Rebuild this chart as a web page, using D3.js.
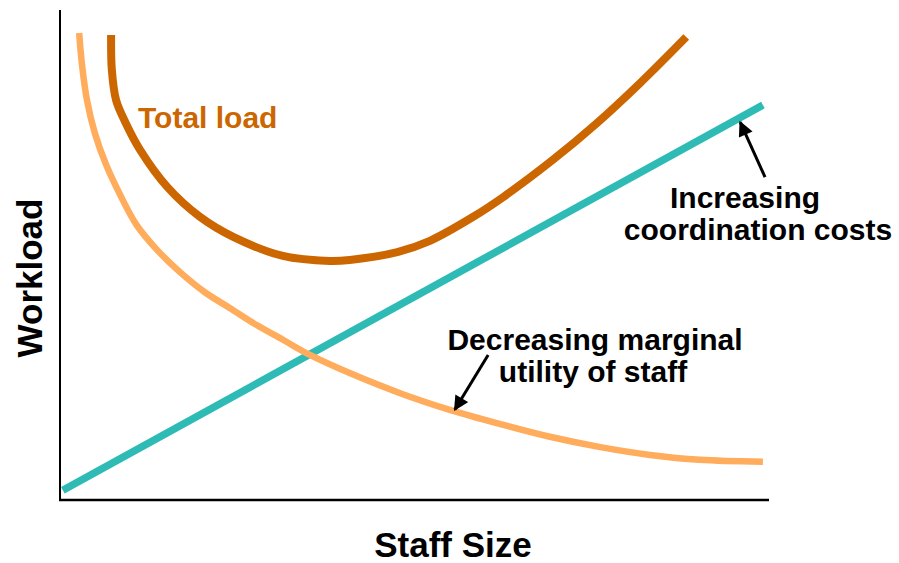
<!DOCTYPE html>
<html>
<head>
<meta charset="utf-8">
<script src="https://cdn.jsdelivr.net/npm/d3@7"></script>
<style>
  html, body { margin: 0; padding: 0; background: #ffffff; }
  svg { display: block; }
</style>
</head>
<body>
<div id="chart"></div>
<script>
/*****************************************************
 * DATA  (staff size on x, workload on y, both 0..10)
 *****************************************************/
const utilityX = [0.27, 0.31, 0.38, 0.49, 0.65, 0.85, 1.08, 1.37, 1.69, 2.04, 2.39, 2.77, 3.14, 3.52, 4.08, 4.79, 5.49, 6.20, 6.90, 7.61, 8.31, 9.01, 9.90];
const utilityY = [9.53, 8.88, 8.16, 7.49, 6.84, 6.22, 5.61, 5.10, 4.65, 4.24, 3.92, 3.57, 3.27, 2.96, 2.59, 2.18, 1.84, 1.55, 1.29, 1.08, 0.92, 0.82, 0.78];

const totalX = [0.72, 0.73, 0.79, 0.92, 1.13, 1.51, 1.97, 2.44, 3.14, 3.80, 4.08, 4.75, 5.21, 5.82, 6.24, 6.94, 7.56, 8.17, 8.82];
const totalY = [9.49, 8.78, 8.16, 7.71, 7.14, 6.39, 5.78, 5.37, 4.98, 4.88, 4.90, 5.06, 5.29, 5.78, 6.18, 6.94, 7.69, 8.51, 9.45];

const coordX = [0.04, 9.90];
const coordY = [0.20, 8.06];

// arrow tail -> head, in data units
const coordArrow = [[9.93, 6.59], [9.58, 7.71]];
const utilityArrow = [[6.03, 2.96], [5.56, 1.84]];

const axisTitles = { x: "Staff Size", y: "Workload" };
const totalLabel = "Total load";
const coordLabel = ["Increasing", "coordination costs"];
const utilityLabel = ["Decreasing marginal", "utility of staff"];

/*****************************************************
 * SETUP
 *****************************************************/
const width = 899;
const height = 563;
const FONT = "'Liberation Sans', Arial, sans-serif";

const svg = d3.select("#chart")
  .append("svg")
  .attr("width", width)
  .attr("height", height);

const x = d3.scaleLinear().domain([0, 10]).range([60, 770]);
const y = d3.scaleLinear().domain([0, 10]).range([500, 10]);

const zip = (xs, ys) => xs.map((v, i) => [v, ys[i]]);

const line = d3.line()
  .x(d => x(d[0]))
  .y(d => y(d[1]))
  .curve(d3.curveCatmullRom.alpha(0.5));

/*****************************************************
 * AXES (plain lines, no ticks)
 *****************************************************/
svg.append("line")
  .attr("x1", x(0)).attr("x2", x(0))
  .attr("y1", y(10)).attr("y2", y(0))
  .attr("stroke", "#000").attr("stroke-width", 2);

svg.append("line")
  .attr("x1", x(0) - 1).attr("x2", x(10) - 1)
  .attr("y1", y(0)).attr("y2", y(0))
  .attr("stroke", "#000").attr("stroke-width", 2.5);

/*****************************************************
 * CURVES
 *****************************************************/
svg.append("path")
  .attr("d", line(zip(coordX, coordY)))
  .attr("fill", "none")
  .attr("stroke", "#2FBBB5")
  .attr("stroke-width", 7.5);

svg.append("path")
  .attr("d", line(zip(utilityX, utilityY)))
  .attr("fill", "none")
  .attr("stroke", "#FFAC5C")
  .attr("stroke-width", 6.5);

svg.append("path")
  .attr("d", line(zip(totalX, totalY)))
  .attr("fill", "none")
  .attr("stroke", "#CC6600")
  .attr("stroke-width", 8)
  .attr("stroke-linejoin", "round");

/*****************************************************
 * ARROWS
 *****************************************************/
svg.append("defs").append("marker")
  .attr("id", "head")
  .attr("viewBox", "0 0 10 10")
  .attr("refX", 9).attr("refY", 5)
  .attr("markerWidth", 5.5).attr("markerHeight", 5)
  .attr("markerUnits", "strokeWidth")
  .attr("orient", "auto")
  .append("path")
  .attr("d", "M0,0 L10,5 L0,10 Z")
  .attr("fill", "#000");

[coordArrow, utilityArrow].forEach(a => {
  svg.append("line")
    .attr("x1", x(a[0][0])).attr("y1", y(a[0][1]))
    .attr("x2", x(a[1][0])).attr("y2", y(a[1][1]))
    .attr("stroke", "#000")
    .attr("stroke-width", 3)
    .attr("marker-end", "url(#head)");
});

/*****************************************************
 * LABELS
 *****************************************************/
svg.append("text")
  .attr("x", 138).attr("y", 128)
  .attr("font-family", FONT).attr("font-weight", 700)
  .attr("font-size", "30px")
  .attr("fill", "#CC6600")
  .text(totalLabel);

// two-line labels as one text element each
function multiline(lines, xs, y0, dy) {
  const t = svg.append("text")
    .attr("y", y0)
    .attr("text-anchor", "middle")
    .attr("font-family", FONT).attr("font-weight", 700)
    .attr("font-size", "30px")
    .attr("fill", "#000");
  lines.forEach((s, i) => {
    t.append("tspan")
      .attr("x", xs[i])
      .attr("dy", i === 0 ? 0 : dy)
      .text(s);
  });
}

multiline(coordLabel, [745, 758], 208, 32);
multiline(utilityLabel, [595, 593], 350, 32);

svg.append("text")
  .attr("x", 453).attr("y", 557)
  .attr("text-anchor", "middle")
  .attr("font-family", FONT).attr("font-weight", 700)
  .attr("font-size", "35px")
  .text(axisTitles.x);

svg.append("text")
  .attr("transform", "translate(42, 278) rotate(-90)")
  .attr("text-anchor", "middle")
  .attr("font-family", FONT).attr("font-weight", 700)
  .attr("font-size", "35px")
  .text(axisTitles.y);
</script>
</body>
</html>
